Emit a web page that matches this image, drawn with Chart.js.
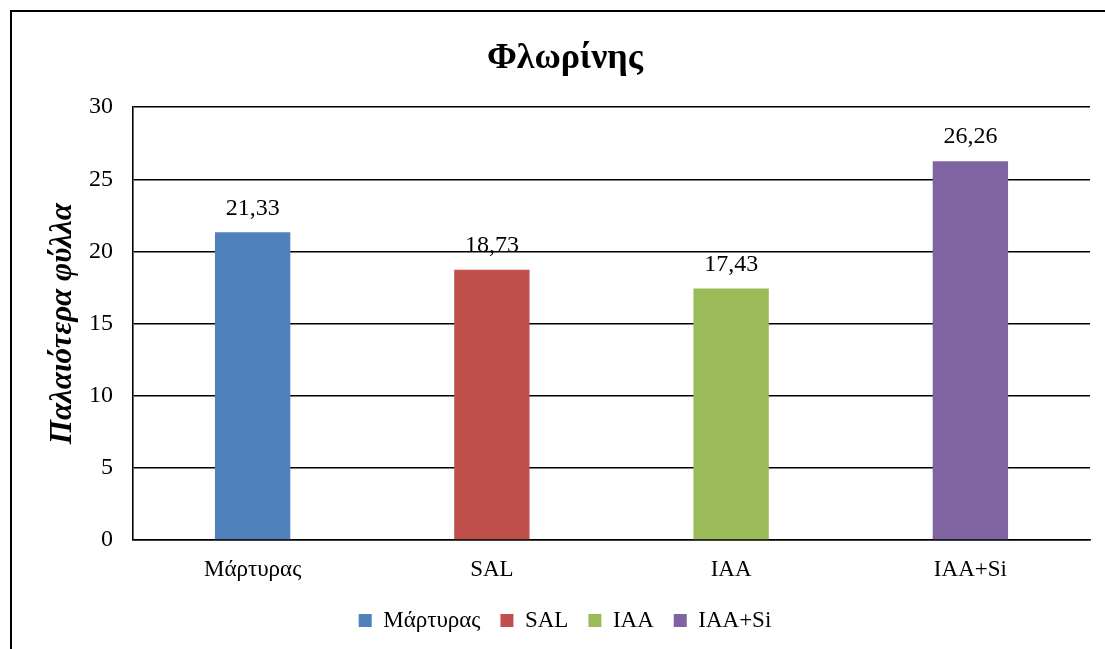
<!DOCTYPE html>
<html>
<head>
<meta charset="utf-8">
<script src="https://cdn.jsdelivr.net/npm/chart.js@4"></script>
<style>
  html, body { margin: 0; padding: 0; background: #fff; }
  #wrap { width: 1105px; height: 649px; position: relative; }
</style>
</head>
<body>
<div id="wrap"><canvas id="leavesChart"></canvas></div>
<script>
    // Δεδομένα γραφήματος
    const categories = ['Μάρτυρας', 'SAL', 'IAA', 'IAA+Si'];
    const values = [21.33, 18.73, 17.43, 26.26];
    const barColors = ['#4F81BD', '#C0504D', '#9BBB59', '#8064A2'];
    const yTicks = [0, 5, 10, 15, 20, 25, 30];

    const serif = "'Liberation Serif', 'Times New Roman', serif";

    // Πλαίσιο γύρω από το γράφημα
    const framePlugin = {
        id: 'frame',
        beforeDraw(chart) {
            const ctx = chart.ctx;
            ctx.save();
            ctx.strokeStyle = '#000';
            ctx.lineWidth = 2;
            ctx.beginPath();
            ctx.moveTo(11, chart.height);
            ctx.lineTo(11, 11);
            ctx.lineTo(chart.width, 11);
            ctx.stroke();
            ctx.restore();
        }
    };

    // Τιμές πάνω από τις μπάρες (με κόμμα)
    const valueLabels = {
        id: 'valueLabels',
        afterDatasetsDraw(chart) {
            const ctx = chart.ctx;
            const meta = chart.getDatasetMeta(0);
            ctx.save();
            ctx.font = '24px ' + serif;
            ctx.fillStyle = '#000';
            ctx.textAlign = 'center';
            ctx.textBaseline = 'middle';
            meta.data.forEach((bar, i) => {
                const txt = values[i].toFixed(2).replace('.', ',');
                ctx.fillText(txt, bar.x, bar.y - 24);
            });
            ctx.restore();
        }
    };

    const ctx = document.getElementById('leavesChart').getContext('2d');
    const chart = new Chart(ctx, {
        type: 'bar',
        data: {
            labels: categories,
            datasets: [{
                data: values,
                backgroundColor: barColors,
                borderWidth: 0,
                categoryPercentage: 1,
                barPercentage: 0.315
            }]
        },
        options: {
            responsive: true,
            maintainAspectRatio: false,
            animation: false,
            layout: {
                padding: { left: 40, right: 15, top: 10, bottom: 7 }
            },
            scales: {
                y: {
                    min: 0,
                    max: 30,
                    afterFit(scale) { scale.width = 93; },
                    afterBuildTicks(scale) {
                        scale.ticks = yTicks.map(v => ({ value: v }));
                    },
                    grid: {
                        color: '#000',
                        lineWidth: 1.6,
                        drawTicks: false
                    },
                    border: { display: true, color: '#000', width: 1.6 },
                    ticks: {
                        padding: 20,
                        color: '#000',
                        font: { family: serif, size: 24 }
                    },
                    title: {
                        display: true,
                        text: 'Παλαιότερα φύλλα',
                        color: '#000',
                        padding: { top: 4, bottom: 0 },
                        font: { family: serif, size: 31, weight: 'bold', style: 'italic' }
                    }
                },
                x: {
                    afterFit(scale) { scale.height = 49; },
                    grid: { display: false, drawTicks: false },
                    border: { display: true, color: '#000', width: 1.6 },
                    ticks: {
                        padding: 16,
                        color: '#000',
                        font: { family: serif, size: 23 }
                    }
                }
            },
            plugins: {
                title: {
                    display: true,
                    text: 'Φλωρίνης',
                    color: '#000',
                    padding: { top: 27, bottom: 27 },
                    font: { family: serif, size: 36, weight: 'bold' }
                },
                legend: {
                    position: 'bottom',
                    labels: {
                        boxWidth: 13,
                        boxHeight: 13,
                        padding: 20,
                        color: '#000',
                        font: { family: serif, size: 23 },
                        generateLabels() {
                            return categories.map((c, i) => ({
                                text: c,
                                fillStyle: barColors[i],
                                strokeStyle: barColors[i],
                                lineWidth: 0,
                                index: i
                            }));
                        }
                    }
                },
                tooltip: { enabled: false }
            }
        },
        plugins: [framePlugin, valueLabels]
    });
</script>
</body>
</html>
